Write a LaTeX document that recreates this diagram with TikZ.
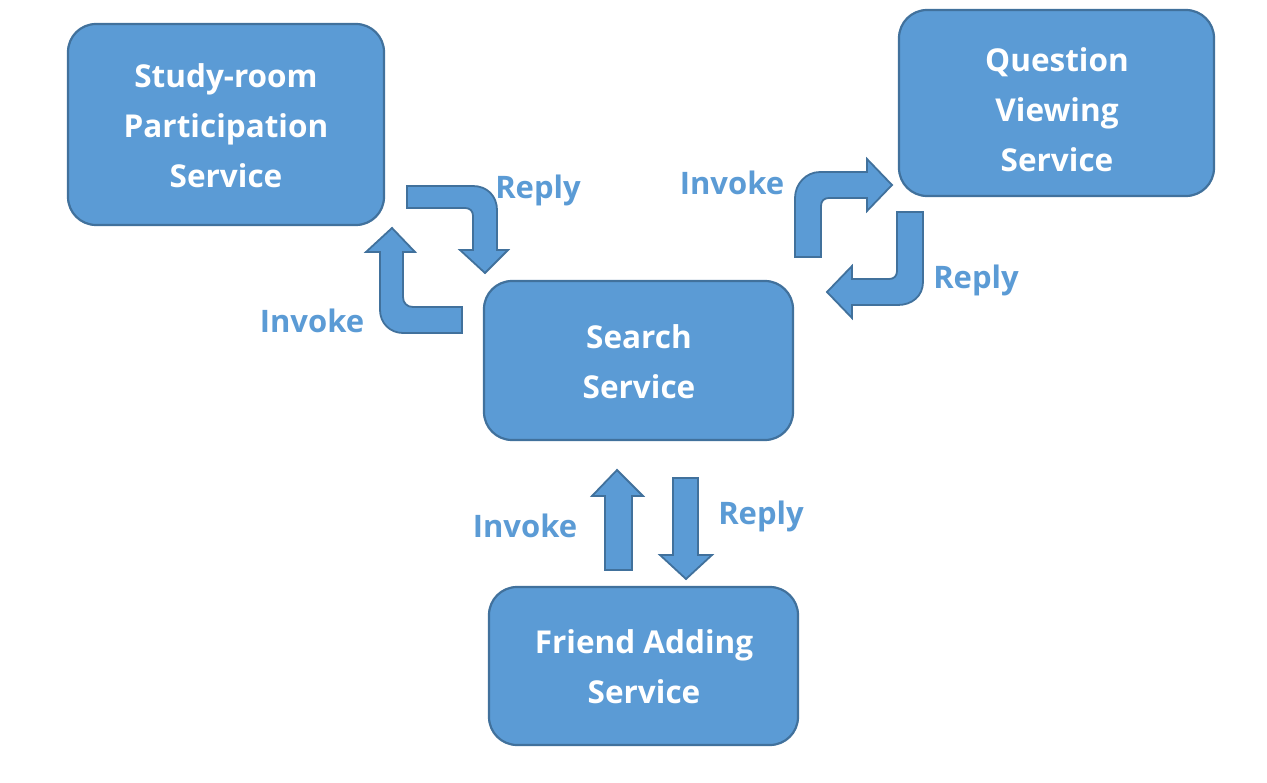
\documentclass[tikz,border=0pt]{standalone}
\usepackage{fontspec}
\setmainfont{Open Sans}
\begin{document}
\begin{tikzpicture}[x=1pt,y=-1pt,
  svc/.style={draw=bdr,fill=blu,line width=2.2pt,rounded corners=28pt},
  svctext/.style={text=white,font=\fontsize{31.5}{50}\selectfont\bfseries,align=center},
  lbl/.style={text=blu,font=\fontsize{31}{36}\selectfont\bfseries},
  blk/.style={draw=bdr,fill=blu,line width=1.8pt,line join=miter}]
\definecolor{blu}{HTML}{5B9BD5}
\definecolor{bdr}{HTML}{41719C}
\useasboundingbox (0,0) rectangle (1267,783);
% boxes
\draw[svc] (68,24) rectangle (384,225);
\node[svctext] (study) at (226,126) {Study-room\\Participation\\Service};
\draw[svc] (899,10) rectangle (1214,196);
\node[svctext] (quest) at (1057,110) {Question\\Viewing\\Service};
\draw[svc] (484,281) rectangle (793,440);
\node[svctext] (search) at (639,362) {Search\\Service};
\draw[svc] (489,587) rectangle (798,745);
\node[svctext] (friend) at (644,667) {Friend Adding\\Service};
% block arrows
\draw[blk] (407,186) -- (473,186) .. controls (487,186) and (497,196) .. (497,210) -- (497,250) -- (508,250) -- (485,273) -- (460,250) -- (473,250) -- (473,216) .. controls (473,211) and (470,208) .. (465,208) -- (407,208) -- cycle;
\draw[blk] (462,307) -- (413,307) .. controls (407,307) and (403,303) .. (403,297) -- (403,252) -- (415,252) -- (392,228) -- (366,252) -- (380,252) -- (380,310) .. controls (380,323) and (390,333) .. (403,333) -- (462,333) -- cycle;
\draw[blk] (795,257) -- (795,198) .. controls (795,184) and (806,172) .. (820,172) -- (867,172) -- (867,159) -- (892,185) -- (867,211) -- (867,198) -- (829,198) .. controls (824,198) and (821,201) .. (821,206) -- (821,257) -- cycle;
\draw[blk] (897,212) -- (923,212) -- (923,282) .. controls (923,296) and (912,305) .. (898,305) -- (852,305) -- (852,318) -- (827,292) -- (852,266) -- (852,279) -- (889,279) .. controls (894,279) and (897,276) .. (897,271) -- cycle;
\draw[blk] (605,570) -- (605,496) -- (592,496) -- (617,470) -- (643,496) -- (632,496) -- (632,570) -- cycle;
\draw[blk] (673,478) -- (698,478) -- (698,555) -- (712,555) -- (686,579) -- (660,555) -- (673,555) -- cycle;
% labels
\node[lbl] (l1) at (538,190) {Reply};
\node[lbl] (l2) at (312,321) {Invoke};
\node[lbl] (l3) at (732,183) {Invoke};
\node[lbl] (l4) at (976,280) {Reply};
\node[lbl] (l5) at (525,526) {Invoke};
\node[lbl] (l6) at (761,516) {Reply};
\end{tikzpicture}
\end{document}
